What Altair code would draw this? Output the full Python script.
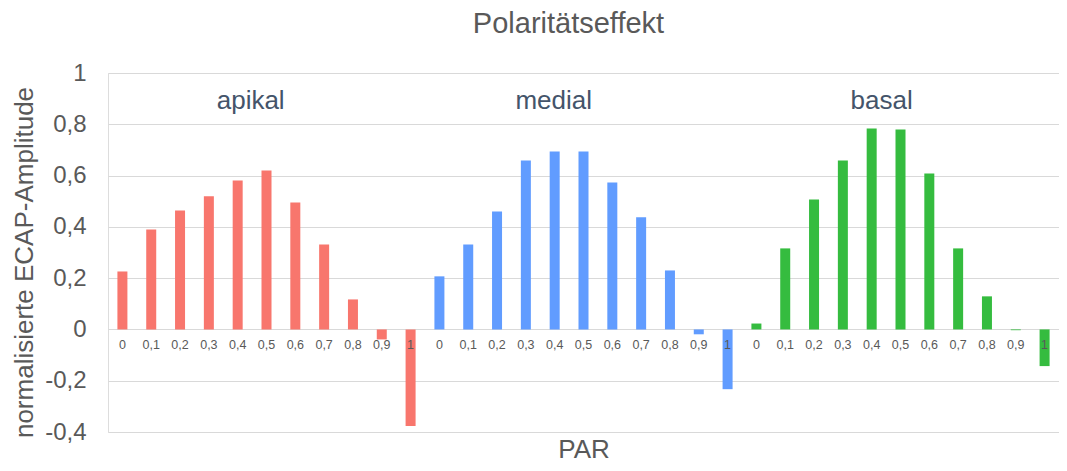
import altair as alt
import pandas as pd

groups = ["apikal", "medial", "basal"]
par_labels = ["0", "0,1", "0,2", "0,3", "0,4", "0,5", "0,6", "0,7", "0,8", "0,9", "1"]
apikal = [0.226, 0.390, 0.464, 0.519, 0.581, 0.620, 0.495, 0.331, 0.117, -0.039, -0.377]
medial = [0.207, 0.331, 0.460, 0.659, 0.694, 0.694, 0.573, 0.437, 0.230, -0.019, -0.233]
basal = [0.023, 0.316, 0.507, 0.659, 0.784, 0.780, 0.608, 0.316, 0.129, -0.003, -0.143]
colors = ["#F8766D", "#619CFF", "#35BC3F"]
y_ticks = [-0.4, -0.2, 0, 0.2, 0.4, 0.6, 0.8, 1]

FONT = "Liberation Sans"
GRAY = "#595959"

series = {"apikal": apikal, "medial": medial, "basal": basal}
rows = []
keys = []
for g in groups:
    for p, v in zip(par_labels, series[g]):
        k = f"{g}|{p}"
        keys.append(k)
        rows.append({"key": k, "group": g, "par": p, "value": v, "zero": 0.0})
df = pd.DataFrame(rows)

xscale = alt.Scale(domain=keys, paddingInner=0, paddingOuter=0)
yscale = alt.Scale(domain=[-0.4, 1], nice=False, zero=False)

xaxis = alt.Axis(labels=False, ticks=False, domain=False, grid=False,
                 title="PAR", titleFont=FONT, titleFontSize=26, titleColor=GRAY,
                 titleFontWeight="normal", titleBaseline="alphabetic", titleY=25)
yaxis = alt.Axis(values=y_ticks, labelExpr="replace(toString(datum.value), '.', ',')",
                 labelFont=FONT, labelFontSize=24, labelColor=GRAY, labelPadding=22,
                 ticks=False, domain=False, grid=True, gridColor="#D9D9D9", gridWidth=1,
                 title="normalisierte ECAP-Amplitude", titleFont=FONT, titleFontSize=26,
                 titleColor=GRAY, titleFontWeight="normal", titleAngle=270,
                 titleX=-84, titleY=189, titleBaseline="middle", titleAlign="center")

X = lambda: alt.X("key:N", scale=xscale, axis=xaxis, sort=keys, title="PAR")

bars = alt.Chart(df).mark_bar(size=10).encode(
    x=X(),
    y=alt.Y("value:Q", scale=yscale, axis=yaxis, title="normalisierte ECAP-Amplitude"),
    color=alt.Color("group:N", scale=alt.Scale(domain=groups, range=colors), legend=None),
)

xlabels = alt.Chart(df).mark_text(font=FONT, fontSize=12.5, color=GRAY, baseline="middle", dy=16).encode(
    x=X(),
    y=alt.Y("zero:Q", scale=yscale, axis=yaxis, title="normalisierte ECAP-Amplitude"),
    text="par:N",
)

group_label_y = 0.89
group_label_dx = [13, -1, 10]
glayers = []
for g, dx in zip(groups, group_label_dx):
    gdf = pd.DataFrame([{"key": f"{g}|0,4", "label": g, "yv": group_label_y}])
    glayers.append(
        alt.Chart(gdf).mark_text(font=FONT, fontSize=26, color="#44546A", baseline="middle", dx=dx).encode(
            x=X(),
            y=alt.Y("yv:Q", scale=yscale, axis=yaxis, title="normalisierte ECAP-Amplitude"),
            text="label:N",
        )
    )

chart = alt.layer(bars, xlabels, *glayers).properties(
    width=951,
    height=359,
    title=alt.Title("Polaritätseffekt", font=FONT, fontSize=29, color=GRAY, fontWeight="normal",
                    offset=22, dx=-15, anchor="middle", frame="group"),
    autosize=alt.AutoSizeParams(type="none"),
    padding={"left": 100, "top": 65, "right": 0, "bottom": 31},
).configure_view(stroke=None).configure(background="white")

chart.save("out.html", embed_options={"renderer": "svg", "actions": False})
